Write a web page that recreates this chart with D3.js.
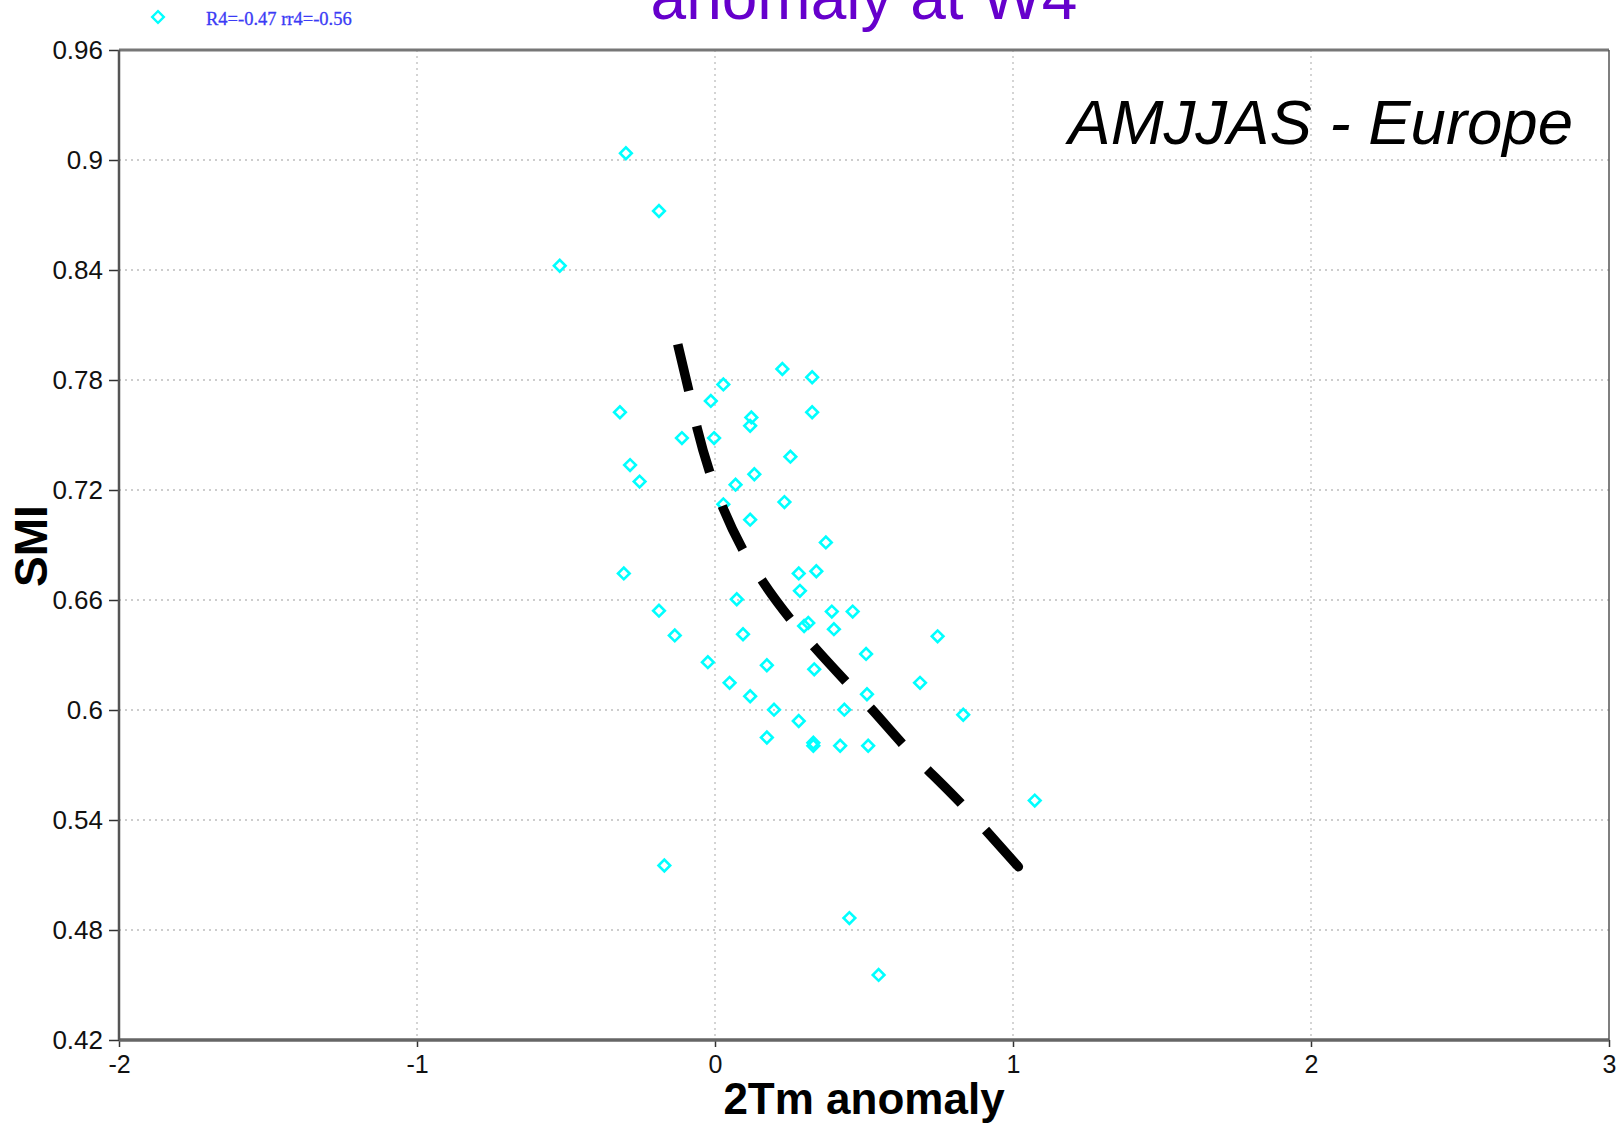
<!DOCTYPE html>
<html>
<head>
<meta charset="utf-8">
<script src="https://cdnjs.cloudflare.com/ajax/libs/d3/7.8.5/d3.min.js"></script>
<style>
  body { margin: 0; background: #fff; }
  text { font-family: "Liberation Sans", Arial, sans-serif; }
</style>
</head>
<body>
<svg class="scatter" width="1620" height="1125"></svg>
<script>
// 2Tm anomaly (x) and SMI (y) for each year
var tempAnom = [-0.299, -0.188, -0.521, 0.226, 0.326, 0.028, -0.014, -0.319, 0.326, 0.122,
  0.118, -0.111, -0.003, 0.253, -0.285, 0.132, -0.253, 0.069, 0.233, 0.028,
  0.118, 0.372, -0.306, 0.281, 0.340, 0.285, 0.073, -0.188, 0.392, 0.462,
  0.313, 0.299, 0.399, -0.135, 0.094, 0.747, 0.507, -0.024, 0.174, 0.333,
  0.049, 0.688, 0.510, 0.118, 0.198, 0.434, 0.833, 0.281, 0.174, 0.330,
  0.330, 0.420, 0.514, 1.073, -0.170, 0.451, 0.549]
var smi = [0.9037, 0.8722, 0.8423, 0.7860, 0.7815, 0.7776, 0.7686, 0.7624, 0.7624, 0.7596,
  0.7550, 0.7483, 0.7483, 0.7382, 0.7336, 0.7286, 0.7246, 0.7229, 0.7134, 0.7122,
  0.7038, 0.6914, 0.6745, 0.6745, 0.6757, 0.6650, 0.6604, 0.6542, 0.6537, 0.6537,
  0.6475, 0.6458, 0.6441, 0.6407, 0.6413, 0.6402, 0.6306, 0.6261, 0.6244, 0.6222,
  0.6148, 0.6148, 0.6086, 0.6075, 0.6002, 0.6002, 0.5974, 0.5940, 0.5850, 0.5822,
  0.5805, 0.5805, 0.5805, 0.5506, 0.5152, 0.4865, 0.4555]

// fitted curve (dashed), sampled along the drawn line
var fitX = [-0.125, -0.087, -0.060, -0.017, 0.027, 0.094, 0.161, 0.255, 0.336, 0.4435, 0.5276, 0.632, 0.830, 1.018]
var fitY = [0.7995, 0.7734, 0.7538, 0.7293, 0.7102, 0.6873, 0.6699, 0.6492, 0.6339, 0.6148, 0.6001, 0.5810, 0.5483, 0.5145]

var xTicks = [-2, -1, 0, 1, 2, 3]
var yTicks = [0.42, 0.48, 0.54, 0.6, 0.66, 0.72, 0.78, 0.84, 0.9, 0.96]
var legendText = "R4=-0.47 rr4=-0.56"
var titleText = "anomaly at W4"
var regionText = "AMJJAS - Europe"

// plot box (note: "top" is taken by window.top, so use other names)
var pLeft = 119, pRight = 1609, pTop = 50, pBottom = 1040

var svg = d3.select(".scatter")
var x = d3.scaleLinear().domain([-2, 3]).range([pLeft, pRight])
var y = d3.scaleLinear().domain([0.42, 0.96]).range([pBottom, pTop])

// dotted grid lines
var grid = svg.append("g").attr("class", "grid")
grid.selectAll(".vgrid")
  .data(xTicks.slice(1, -1))
  .enter()
  .append("line")
  .attr("x1", function(d) { return x(d) })
  .attr("x2", function(d) { return x(d) })
  .attr("y1", pTop)
  .attr("y2", pBottom)
grid.selectAll(".hgrid")
  .data(yTicks.slice(1, -1))
  .enter()
  .append("line")
  .attr("x1", pLeft)
  .attr("x2", pRight)
  .attr("y1", function(d) { return y(d) })
  .attr("y2", function(d) { return y(d) })
grid.selectAll("line")
  .attr("stroke", "#bdbdbd")
  .attr("stroke-width", 1.3)
  .attr("stroke-dasharray", "2,4")

// axes
var xAxis = svg.append("g")
  .attr("transform", "translate(0," + pBottom + ")")
  .call(d3.axisBottom(x).tickValues(xTicks).tickSize(7).tickPadding(8).tickFormat(function(d) { return String(d) }))
var yAxis = svg.append("g")
  .attr("transform", "translate(" + pLeft + ",0)")
  .call(d3.axisLeft(y).tickValues(yTicks).tickSize(10).tickPadding(6).tickFormat(function(d) { return String(d) }))
svg.selectAll(".tick text")
  .attr("font-family", "Liberation Sans, Arial, sans-serif")
  .attr("fill", "#111")
yAxis.selectAll(".tick text").attr("font-size", 26)
xAxis.selectAll(".tick text").attr("font-size", 25).attr("dy", "0.71em")
svg.selectAll(".tick line").attr("stroke", "#333").attr("stroke-width", 1.5)
svg.selectAll(".domain").remove()

// frame
svg.append("line").attr("x1", pLeft).attr("x2", pRight).attr("y1", pTop).attr("y2", pTop)
  .attr("stroke", "#777").attr("stroke-width", 3)
svg.append("line").attr("x1", pLeft).attr("x2", pRight).attr("y1", pBottom).attr("y2", pBottom)
  .attr("stroke", "#666").attr("stroke-width", 3.5)
svg.append("line").attr("x1", pLeft).attr("x2", pLeft).attr("y1", pTop).attr("y2", pBottom)
  .attr("stroke", "#555").attr("stroke-width", 2.5)
svg.append("line").attr("x1", pRight).attr("x2", pRight).attr("y1", pTop).attr("y2", pBottom)
  .attr("stroke", "#555").attr("stroke-width", 1.5)

// scatter points as open diamonds
var diamond = d3.symbol().type(d3.symbolSquare).size(68)
svg.selectAll(".pt")
  .data(d3.range(tempAnom.length))
  .enter()
  .append("path")
  .attr("class", "pt")
  .attr("d", diamond)
  .attr("transform", function(i) { return "translate(" + x(tempAnom[i]) + "," + y(smi[i]) + ") rotate(45)" })
  .attr("fill", "none")
  .attr("stroke", "#00ffff")
  .attr("stroke-width", 2.6)

// dashed fit line
var fitLine = d3.line()
  .x(function(i) { return x(fitX[i]) })
  .y(function(i) { return y(fitY[i]) })
  .curve(d3.curveMonotoneX)
svg.append("path")
  .attr("d", fitLine(d3.range(fitX.length)))
  .attr("fill", "none")
  .attr("stroke", "#000")
  .attr("stroke-width", 9.5)
  .attr("stroke-dasharray", "48,36")
svg.append("circle")
  .attr("cx", x(fitX[fitX.length - 1]))
  .attr("cy", y(fitY[fitY.length - 1]))
  .attr("r", 4.75)
  .attr("fill", "#000")

// legend
svg.append("path")
  .attr("d", diamond)
  .attr("transform", "translate(158,17) rotate(45)")
  .attr("fill", "none")
  .attr("stroke", "#00ffff")
  .attr("stroke-width", 2.4)
svg.append("text")
  .attr("x", 206)
  .attr("y", 25)
  .style("font-family", "'Liberation Serif', 'Times New Roman', serif")
  .attr("font-size", 18.5)
  .attr("fill", "#3b3bf5")
  .attr("stroke", "#3b3bf5")
  .attr("stroke-width", 0.3)
  .text(legendText)

// title (upper line falls off the page)
svg.append("text")
  .attr("x", (pLeft + pRight) / 2)
  .attr("y", 19)
  .attr("text-anchor", "middle")
  .attr("font-size", 64)
  .attr("fill", "#6600cc")
  .text(titleText)

svg.append("text")
  .attr("x", 1573)
  .attr("y", 144)
  .attr("text-anchor", "end")
  .attr("font-size", 63.5)
  .attr("font-style", "italic")
  .attr("fill", "#000")
  .text(regionText)

// axis titles
svg.append("text")
  .attr("x", (pLeft + pRight) / 2)
  .attr("y", 1114)
  .attr("text-anchor", "middle")
  .attr("font-size", 44)
  .attr("font-weight", "bold")
  .text("2Tm anomaly")
svg.append("text")
  .attr("transform", "translate(47,546) rotate(-90)")
  .attr("text-anchor", "middle")
  .attr("font-size", 46)
  .attr("font-weight", "bold")
  .text("SMI")
</script>
</body>
</html>
